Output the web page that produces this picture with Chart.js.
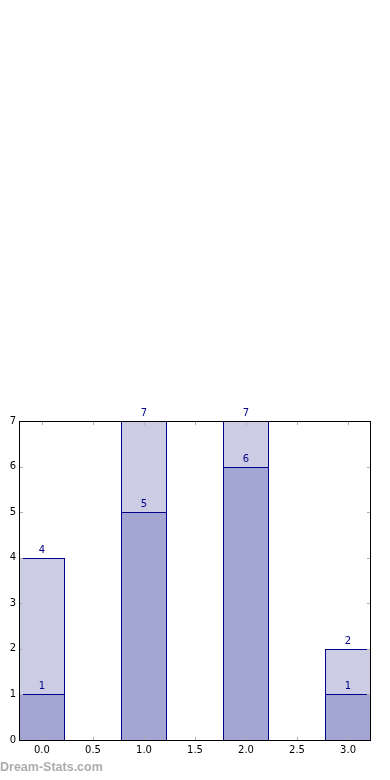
<!DOCTYPE html>
<html>
<head>
<meta charset="utf-8">
<script src="https://cdn.jsdelivr.net/npm/chart.js@4/dist/chart.umd.min.js"></script>
<style>
html,body{margin:0;padding:0;background:#fff;}
#wrap{position:relative;width:390px;height:780px;}
#wm{position:absolute;left:0;top:760px;font-family:"Liberation Sans";font-weight:bold;font-size:12.5px;color:#acacac;}
</style>
</head>
<body>
<div id="wrap"><canvas id="c" width="390" height="780"></canvas><div id="wm">Dream-Stats.com</div></div>
<script>
const positions = [0, 1, 2, 3];
const totalValues = [4, 7, 7, 2];
const partValues = [1, 5, 6, 1];
const xTicks = [0, 0.5, 1, 1.5, 2, 2.5, 3];
const yTicks = [0, 1, 2, 3, 4, 5, 6, 7];

const navy = '#00008b';

const snapPlugin = {
  id: 'snap',
  afterDatasetsUpdate(chart) {
    chart.data.datasets.forEach((ds, di) => {
      chart.getDatasetMeta(di).data.forEach(el => {
        const w = Math.round(el.width);
        const left = Math.round(el.x - el.width / 2);
        el.width = w;
        el.x = left + w / 2;
        el.y = Math.round(el.y);
        el.base = Math.round(el.base) + 1;
      });
    });
  }
};

const labelPlugin = {
  id: 'labels',
  afterDatasetsDraw(chart) {
    const ctx = chart.ctx;
    const a = chart.chartArea;
    const xs = chart.scales.x, ys = chart.scales.y;
    const L = Math.round(a.left), R = Math.round(a.right) - 1, T = Math.round(a.top), B = Math.round(a.bottom);
    ctx.save();
    // frame
    ctx.strokeStyle = '#000';
    ctx.lineWidth = 1;
    ctx.strokeRect(L + 0.5, T + 0.5, R - L, B - T);
    // inward ticks
    ctx.strokeStyle = '#b0b0b0';
    ctx.beginPath();
    xTicks.forEach(v => {
      const x = Math.round(xs.getPixelForValue(v)) + 0.5;
      ctx.moveTo(x, B); ctx.lineTo(x, B - 3);
      ctx.moveTo(x, T + 1); ctx.lineTo(x, T + 4);
    });
    yTicks.forEach(v => {
      const y = Math.round(ys.getPixelForValue(v)) + 0.5;
      ctx.moveTo(L + 1, y); ctx.lineTo(L + 4, y);
      ctx.moveTo(R, y); ctx.lineTo(R - 3, y);
    });
    ctx.stroke();
    // redraw frame over ticks
    ctx.strokeStyle = '#000';
    ctx.strokeRect(L + 0.5, T + 0.5, R - L, B - T);
    // value labels
    ctx.fillStyle = navy;
    ctx.font = '10px "DejaVu Sans"';
    ctx.textAlign = 'center';
    ctx.textBaseline = 'bottom';
    chart.data.datasets.forEach((ds, di) => {
      const meta = chart.getDatasetMeta(di);
      meta.data.forEach((el, i) => {
        ctx.fillText(String(ds.data[i].y), el.x, el.y - 3);
      });
    });
    ctx.restore();
  }
};

new Chart(document.getElementById('c'), {
  type: 'bar',
  data: {
    datasets: [
      {
        data: positions.map((p, i) => ({x: p, y: partValues[i]})),
        backgroundColor: '#a3a5d2',
        borderColor: navy,
        borderWidth: 1,
        borderSkipped: false
      },
      {
        data: positions.map((p, i) => ({x: p, y: totalValues[i]})),
        backgroundColor: '#cccce4',
        borderColor: navy,
        borderWidth: 1,
        borderSkipped: false
      }
    ]
  },
  options: {
    responsive: false,
    animation: false,
    grouped: false,
    categoryPercentage: 1,
    barPercentage: 0.9,
    layout: {padding: {top: 421, right: 19, left: 0, bottom: 0}},
    plugins: {legend: {display: false}, tooltip: {enabled: false}},
    scales: {
      x: {
        type: 'linear',
        min: -0.225,
        max: 3.225,
        offset: false,
        grid: {display: false, drawTicks: false, tickLength: 0},
        border: {display: false},
        afterBuildTicks: s => { s.ticks = xTicks.map(v => ({value: v})); },
        afterFit: s => { s.height = 40; },
        ticks: {
          color: '#000',
          font: {family: 'DejaVu Sans', size: 10},
          padding: 4,
          maxRotation: 0,
          callback: v => v.toFixed(1)
        }
      },
      y: {
        min: 0,
        max: 7,
        grid: {display: false, drawTicks: false, tickLength: 0},
        border: {display: false},
        afterBuildTicks: s => { s.ticks = yTicks.map(v => ({value: v})); },
        afterFit: s => { s.width = 19; },
        ticks: {
          color: '#000',
          font: {family: 'DejaVu Sans', size: 10},
          padding: 3
        }
      }
    }
  },
  plugins: [snapPlugin, labelPlugin]
});
</script>
</body>
</html>
